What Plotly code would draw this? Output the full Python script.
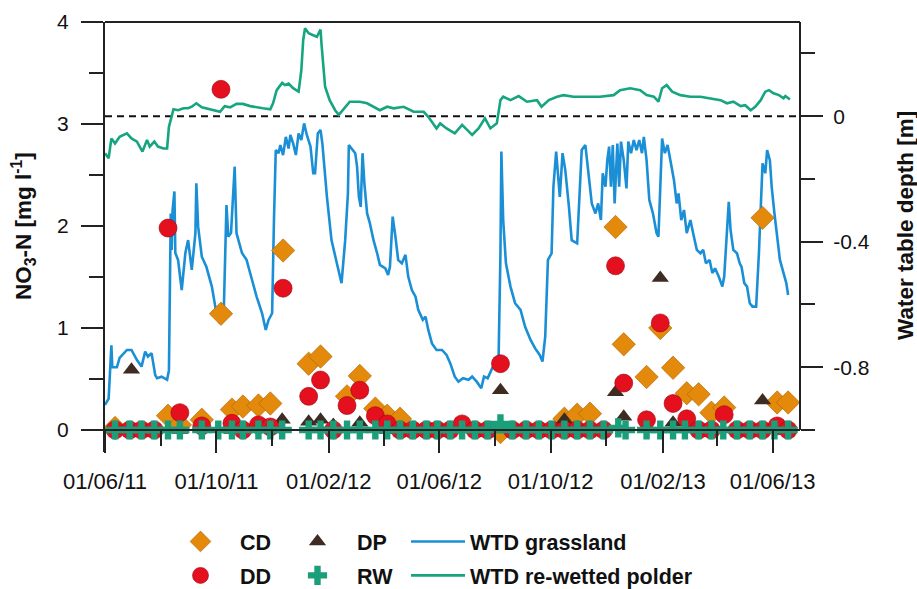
import pandas as pd
import plotly.graph_objects as go

# ---------------- data (days counted from 01/06/2011) ----------------
START = pd.Timestamp("2011-06-01")

grass_day = [0, 4, 7, 8, 13, 16, 24, 29, 35, 40, 44, 47, 51, 55, 57, 62, 68, 70, 72, 73,
             74, 76, 77, 80, 84, 88, 91, 93, 95, 99, 100, 102, 106, 111, 117, 122, 126, 130, 133, 135,
             138, 142, 144, 150, 155, 161, 166, 172, 176, 179, 183, 185, 187, 190, 192, 195, 198, 201, 203, 206,
             209, 212, 215, 218, 221, 225, 228, 230, 233, 236, 238, 243, 248, 254, 259, 263, 266, 267, 270, 274,
             276, 278, 280, 282, 284, 287, 290, 294, 298, 301, 307, 310, 312, 315, 318, 321, 325, 329, 332, 336,
             340, 343, 348, 351, 354, 358, 363, 369, 374, 378, 383, 387, 392, 398, 402, 407, 412, 415, 419, 424,
             428, 431, 433, 434, 436, 439, 444, 449, 455, 460, 466, 471, 476, 479, 482, 485, 489, 491, 494, 497,
             498, 501, 504, 508, 511, 517, 520, 522, 526, 529, 533, 537, 540, 543, 545, 548, 550, 552, 554, 556,
             558, 561, 563, 565, 568, 571, 573, 576, 579, 582, 585, 588, 590, 593, 596, 600, 604, 606, 608, 610,
             613, 616, 619, 623, 626, 628, 631, 634, 637, 641, 644, 648, 652, 655, 658, 662, 665, 668, 672, 676,
             678, 681, 683, 685, 688, 692, 695, 697, 700, 703, 706, 709, 713, 716, 718, 720, 723, 725, 728, 730,
             733, 736, 739, 743, 746, 748]
grass_wtd = [-0.92, -0.90, -0.73, -0.80, -0.80, -0.77, -0.745, -0.745, -0.777, -0.798, -0.75, -0.766, -0.755, -0.825, -0.835, -0.83, -0.84, -0.81, -0.31, -0.426,
             -0.30, -0.24, -0.436, -0.458, -0.554, -0.436, -0.395, -0.436, -0.49, -0.373, -0.214, -0.352, -0.448, -0.48, -0.543, -0.628, -0.66, -0.627, -0.283, -0.384,
             -0.372, -0.161, -0.373, -0.436, -0.458, -0.522, -0.575, -0.628, -0.681, -0.65, -0.628, -0.331, -0.108, -0.118, -0.092, -0.124, -0.066, -0.103, -0.06, -0.087,
             -0.124, -0.055, -0.076, -0.023, -0.06, -0.097, -0.182, -0.182, -0.055, -0.044, -0.087, -0.257, -0.395, -0.47, -0.532, -0.395, -0.246, -0.092, -0.103, -0.118,
             -0.161, -0.257, -0.289, -0.118, -0.214, -0.31, -0.341, -0.395, -0.437, -0.474, -0.485, -0.506, -0.48, -0.32, -0.384, -0.458, -0.469, -0.442, -0.511, -0.554,
             -0.575, -0.617, -0.649, -0.639, -0.681, -0.724, -0.745, -0.745, -0.761, -0.787, -0.83, -0.846, -0.835, -0.84, -0.83, -0.846, -0.867, -0.83, -0.835, -0.803,
             -0.787, -0.766, -0.437, -0.113, -0.331, -0.469, -0.543, -0.596, -0.617, -0.671, -0.713, -0.74, -0.761, -0.782, -0.703, -0.458, -0.437, -0.225, -0.113, -0.225,
             -0.257, -0.118, -0.172, -0.289, -0.395, -0.405, -0.204, -0.108, -0.092, -0.172, -0.278, -0.31, -0.278, -0.331, -0.182, -0.225, -0.14, -0.097, -0.225, -0.092,
             -0.278, -0.087, -0.225, -0.081, -0.14, -0.23, -0.081, -0.118, -0.076, -0.108, -0.076, -0.118, -0.066, -0.14, -0.267, -0.31, -0.373, -0.384, -0.225, -0.071,
             -0.118, -0.092, -0.14, -0.204, -0.278, -0.246, -0.331, -0.299, -0.373, -0.331, -0.373, -0.426, -0.437, -0.426, -0.469, -0.458, -0.50, -0.485, -0.511, -0.543,
             -0.511, -0.352, -0.273, -0.363, -0.426, -0.437, -0.469, -0.48, -0.532, -0.543, -0.596, -0.607, -0.607, -0.437, -0.267, -0.15, -0.182, -0.108, -0.14, -0.225,
             -0.31, -0.384, -0.458, -0.50, -0.532, -0.57]

polder_day = [0, 4, 7, 11, 16, 24, 29, 35, 41, 46, 49, 54, 58, 64, 68, 70, 75, 80, 86, 91,
              95, 100, 106, 111, 119, 126, 131, 137, 144, 151, 159, 166, 173, 181, 184, 188, 194, 197, 201, 206,
              212, 215, 217, 219, 223, 228, 232, 236, 237, 241, 246, 252, 256, 268, 279, 287, 301, 309, 316, 327,
              338, 349, 354, 363, 367, 374, 383, 391, 396, 402, 409, 416, 422, 429, 433, 436, 444, 453, 462, 473,
              478, 486, 495, 502, 513, 528, 542, 557, 564, 575, 586, 593, 601, 606, 610, 615, 621, 630, 641, 652,
              663, 674, 681, 688, 696, 701, 707, 712, 718, 723, 727, 732, 738, 743, 745, 750]
polder_wtd = [-0.118, -0.134, -0.071, -0.087, -0.066, -0.055, -0.071, -0.081, -0.113, -0.076, -0.097, -0.081, -0.097, -0.103, -0.103, -0.034, 0.022, 0.019, 0.025, 0.025,
              0.03, 0.041, 0.028, 0.025, 0.019, 0.014, 0.032, 0.028, 0.039, 0.039, 0.032, 0.028, 0.025, 0.022, 0.041, 0.083, 0.106, 0.099, 0.104, 0.089,
              0.078, 0.147, 0.242, 0.28, 0.264, 0.258, 0.253, 0.276, 0.232, 0.094, 0.051, 0.019, 0.004, 0.046, 0.046, 0.041, 0.019, 0.03, 0.025, 0.03,
              0.014, 0.014, -0.002, -0.039, -0.023, -0.039, -0.055, -0.028, -0.044, -0.06, -0.039, -0.007, -0.039, -0.023, 0.051, 0.062, 0.051, 0.064, 0.046, 0.051,
              0.03, 0.051, 0.062, 0.067, 0.062, 0.062, 0.062, 0.067, 0.083, 0.089, 0.083, 0.067, 0.062, 0.046, 0.089, 0.099, 0.078, 0.067, 0.062, 0.062,
              0.057, 0.051, 0.041, 0.046, 0.032, 0.035, 0.019, 0.03, 0.051, 0.078, 0.083, 0.073, 0.067, 0.057, 0.064, 0.053]

cd_day = [11, 69, 82, 106, 127, 139, 151, 168, 181, 195, 223, 236, 265, 279, 296, 309, 323, 433, 503, 517,
          531, 559, 568, 593, 608, 622, 637, 650, 664, 678, 720, 736, 748]
cd_no3 = [0.02, 0.14, 0.05, 0.10, 1.14, 0.20, 0.23, 0.24, 0.26, 1.76, 0.65, 0.72, 0.33, 0.53, 0.21, 0.14, 0.11, -0.02, 0.11, 0.15,
          0.16, 1.99, 0.84, 0.52, 1.00, 0.61, 0.36, 0.35, 0.17, 0.22, 2.08, 0.27, 0.27]

dd_day = [11, 27, 40, 54, 69, 82, 106, 127, 139, 151, 168, 181, 195, 223, 236, 250, 265, 279, 296, 309,
          323, 337, 352, 364, 378, 391, 405, 419, 433, 446, 461, 475, 489, 503, 517, 531, 546, 559, 568, 593,
          608, 622, 637, 650, 664, 678, 692, 706, 720, 736, 748]
dd_no3 = [0, 0, 0, 0, 1.98, 0.17, 0.04, 3.34, 0.065, 0, 0.05, 0.03, 1.39, 0.33, 0.49, 0, 0.24, 0.39, 0.14, 0.06,
          0, 0, 0, 0, 0, 0.06, 0, 0, 0.65, 0, 0, 0, 0, 0, 0, 0, 0, 1.61, 0.46, 0.10,
          1.05, 0.26, 0.11, 0, 0, 0.15, 0, 0, 0, 0.04, 0]

dp_day = [29, 54, 82, 139, 194, 223, 236, 250, 279, 309, 433, 503, 559, 568, 608, 622, 720]
dp_no3 = [0.59, 0, 0, 0, 0.10, 0.08, 0.10, 0.05, 0.07, 0, 0.39, 0.10, 0.37, 0.13, 1.49, 0.07, 0.29]

rw_day = [11, 27, 40, 54, 69, 82, 106, 124, 139, 151, 168, 181, 194, 223, 236, 250, 265, 279, 296, 309,
          323, 337, 352, 364, 378, 391, 405, 419, 433, 446, 461, 475, 489, 503, 517, 531, 546, 562, 570, 593,
          608, 622, 635, 650, 664, 677, 692, 706, 720, 733, 748]
rw_no3 = [0] * 28 + [0.06] + [0] * 8 + [0.02] + [0] * 13

wtd_tickvals = [0, -0.4, -0.8]
wtd_ticktext = ["0", "-0.4", "-0.8"]
wtd_minor = [0.2, -0.2, -0.6, -1.0]


def to_dates(days):
    return [START + pd.Timedelta(days=d) for d in days]


# ---------------- styling ----------------
FONT = "Liberation Sans, Arial, sans-serif"
AX = "#222222"
BLUE = "#1b8fd6"
GREEN = "#17a581"
ORANGE = "#e3890b"
RED = "#e4101d"
BROWN = "#3e2c23"
TEAL = "#1b9f7b"

fig = go.Figure()

fig.add_trace(go.Scatter(x=to_dates(grass_day), y=grass_wtd, mode="lines", name="WTD grassland",
                         line=dict(color=BLUE, width=2.6), yaxis="y",
                         legend="legend3", legendgroup="g5", legendrank=1))
fig.add_trace(go.Scatter(x=to_dates(polder_day), y=polder_wtd, mode="lines", name="WTD re-wetted polder",
                         line=dict(color=GREEN, width=2.6), yaxis="y",
                         legend="legend3", legendgroup="g6", legendrank=2))

fig.add_trace(go.Scatter(x=to_dates(cd_day), y=cd_no3, mode="markers", name="CD", yaxis="y2",
                         marker=dict(symbol="diamond", size=18, color=ORANGE, line=dict(color="#a96400", width=0.6)),
                         legend="legend", legendgroup="g1", legendrank=1))
fig.add_trace(go.Scatter(x=to_dates(dp_day), y=dp_no3, mode="markers", name="DP", yaxis="y2",
                         marker=dict(symbol="triangle-up", size=15, color=BROWN, line=dict(width=0)),
                         legend="legend2", legendgroup="g3", legendrank=1))
fig.add_trace(go.Scatter(x=to_dates(dd_day), y=dd_no3, mode="markers", name="DD", yaxis="y2",
                         marker=dict(symbol="circle", size=18, color=RED, line=dict(color="#9a0010", width=0.6)),
                         legend="legend", legendgroup="g2", legendrank=2))
fig.add_trace(go.Scatter(x=to_dates(rw_day), y=rw_no3, mode="markers", name="RW", yaxis="y2",
                         marker=dict(symbol="cross", size=16, color=TEAL, line=dict(width=0)),
                         legend="legend2", legendgroup="g4", legendrank=2))

W, H = 917, 589
ML, MR, MT, MB = 105, 117, 22, 137
PW, PH = W - ML - MR, H - MT - MB

tickfont = dict(family=FONT, size=21, color="#111111")
legfont = dict(family=FONT, size=21.5, color="#111111", weight="bold")
LEG_Y = (H - MB - 558.5) / PH


def leg(left_px, itemw):
    return dict(orientation="v", x=(left_px - ML) / PW, y=LEG_Y, xanchor="left", yanchor="middle",
                itemwidth=itemw, font=legfont, bgcolor="rgba(0,0,0,0)", traceorder="grouped",
                tracegroupgap=3, borderwidth=0)


fig.update_layout(
    width=W, height=H, autosize=False,
    margin=dict(l=ML, r=MR, t=MT, b=MB, pad=0, autoexpand=False),
    paper_bgcolor="white", plot_bgcolor="white",
    font=dict(family=FONT, color="#111111"),
    xaxis=dict(
        type="date", range=[START, pd.Timestamp("2013-07-01")],
        anchor="free", position=(H - MB - 430) / PH,
        showline=True, linecolor=AX, linewidth=2, showgrid=False, zeroline=False,
        ticks="outside", ticklen=22, tickwidth=2, tickcolor=AX, ticklabelstandoff=10,
        tick0="2011-06-01", dtick="M4", tickformat="%d/%m/%y",
        tickfont=dict(family=FONT, size=22, color="#111111"),
        minor=dict(tick0="2011-06-01", dtick="M2", ticks="outside", ticklen=15, tickwidth=2, tickcolor=AX,
                   showgrid=False),
    ),
    yaxis=dict(
        side="right", range=[-1.0 - (452 - 430) / 314.0, 0.3],
        showline=False, showgrid=False, zeroline=False,
        tickmode="array", tickvals=wtd_tickvals, ticktext=wtd_ticktext,
        ticks="outside", ticklen=22, tickwidth=2, tickcolor=AX, tickfont=tickfont, ticklabelstandoff=6,
        minor=dict(tickmode="array", tickvals=wtd_minor, ticks="outside", ticklen=14, tickwidth=2,
                   tickcolor=AX, showgrid=False),
    ),
    yaxis2=dict(
        overlaying="y", side="left", range=[-(452 - 430) / 102.0, 4],
        showline=True, linecolor=AX, linewidth=2, showgrid=False, zeroline=False,
        tick0=0, dtick=1, ticks="outside", ticklen=22, tickwidth=2, tickcolor=AX, tickfont=tickfont,
        ticklabelstandoff=8,
        minor=dict(tick0=0, dtick=0.5, ticks="outside", ticklen=14, tickwidth=2, tickcolor=AX, showgrid=False),
    ),
    legend=leg(161, 69),
    legend2=leg(278, 69),
    legend3=leg(406, 54),
    shapes=[
        dict(type="line", xref="paper", yref="y", x0=0, x1=1, y0=0, y1=0,
             line=dict(color="#111111", width=2, dash="7px,5px"), layer="below"),
        dict(type="line", xref="paper", yref="paper", x0=0, x1=1, y0=1, y1=1,
             line=dict(color=AX, width=2)),
        dict(type="line", xref="paper", yref="y", x0=1, x1=1, y0=-1.0, y1=0.3,
             line=dict(color=AX, width=2)),
    ],
    annotations=[
        dict(text="NO<sub>3</sub>-N [mg l<sup>-1</sup>]", textangle=-90, xref="paper", yref="paper",
             x=(23 - ML) / PW, y=(H - MB - 226) / PH, xanchor="center", yanchor="middle", showarrow=False,
             font=dict(family=FONT, size=22.5, color="#111111", weight="bold")),
        dict(text="Water table depth [m]", textangle=-90, xref="paper", yref="paper",
             x=(905 - ML) / PW, y=(H - MB - 226) / PH, xanchor="center", yanchor="middle", showarrow=False,
             font=dict(family=FONT, size=22.5, color="#111111", weight="bold")),
    ],
)

fig.write_html("out.html")
